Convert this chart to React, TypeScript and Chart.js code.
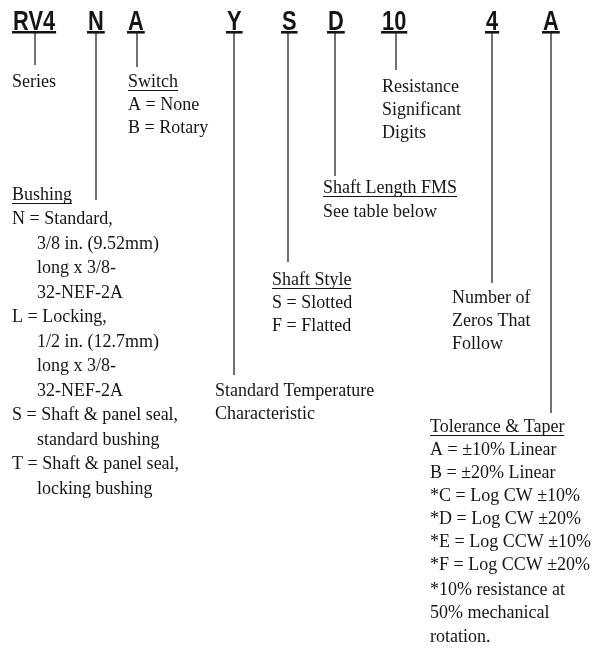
import React, { useEffect, useRef } from "react";
import { Chart, registerables } from "chart.js";

Chart.register(...registerables);

const W = 599;
const H = 666;

// Part-number code segments
const codes = ["RV4", "N", "A", "Y", "S", "D", "10", "4", "A"];
const codeLeft = [13, 88, 128, 227, 282, 328, 382, 486, 543];
const leaderX = [35, 96, 137, 234, 288, 335, 396, 492, 551];
const leaderEnd = [65, 200, 67, 375, 262, 176, 70, 283, 413];
const leaderStart = 33;

// Description blocks (first line underlined when flagged)
const seriesLines = ["Series"];
const switchLines = ["Switch", "A = None", "B = Rotary"];
const resistanceLines = ["Resistance", "Significant", "Digits"];
const shaftLengthLines = ["Shaft Length FMS", "See table below"];
const bushingLines = [
  "Bushing",
  "N = Standard,",
  "3/8 in. (9.52mm)",
  "long x 3/8-",
  "32-NEF-2A",
  "L = Locking,",
  "1/2 in. (12.7mm)",
  "long x 3/8-",
  "32-NEF-2A",
  "S = Shaft & panel seal,",
  "standard bushing",
  "T = Shaft & panel seal,",
  "locking bushing",
];
const bushingIndent = [0, 0, 1, 1, 1, 0, 1, 1, 1, 0, 1, 0, 1];
const shaftStyleLines = ["Shaft Style", "S = Slotted", "F = Flatted"];
const zerosLines = ["Number of", "Zeros That", "Follow"];
const tempLines = ["Standard Temperature", "Characteristic"];
const toleranceLines = [
  "Tolerance & Taper",
  "A = \u00b110% Linear",
  "B = \u00b120% Linear",
  "*C = Log CW \u00b110%",
  "*D = Log CW \u00b120%",
  "*E = Log CCW \u00b110%",
  "*F = Log CCW \u00b120%",
];
const footnoteLines = ["*10% resistance at", "50% mechanical", "rotation."];

const blocks = [seriesLines, switchLines, resistanceLines, shaftLengthLines, bushingLines, shaftStyleLines, zerosLines, tempLines, toleranceLines, footnoteLines];
const blockX = [12, 128, 382, 323, 12, 272, 452, 215, 430, 430];
const blockY = [82, 82, 87, 188, 195, 280, 298, 391, 427, 590];
const blockStep = [23, 23, 23, 24, 24.5, 23, 23, 23, 23, 23.5];
const blockUnderline = [false, true, false, true, true, true, false, false, true, false];
const blockIndents = [null, null, null, null, bushingIndent, null, null, null, null, null];

const TEXT_FONT = '18px "Liberation Serif", "Times New Roman", serif';
const CODE_FONT = 'bold 28px "Liberation Sans", Arial, sans-serif';
const CODE_SCALE = 0.78;
const INK = "#151515";

const textPlugin = {
  id: "diagramText",
  afterDatasetsDraw(chart: any) {
    const ctx = chart.ctx as CanvasRenderingContext2D;
    const xs = chart.scales.x;
    const ys = chart.scales.y;
    ctx.save();
    ctx.fillStyle = INK;
    ctx.strokeStyle = INK;

    // codes
    codes.forEach((c, i) => {
      const px = xs.getPixelForValue(codeLeft[i]);
      const py = ys.getPixelForValue(30);
      ctx.save();
      ctx.font = CODE_FONT;
      ctx.textBaseline = "alphabetic";
      ctx.translate(px, py);
      ctx.scale(CODE_SCALE, 1);
      ctx.fillText(c, 0, 0);
      const w = ctx.measureText(c).width;
      ctx.restore();
      const uw = w * CODE_SCALE;
      ctx.lineWidth = 2.6;
      ctx.beginPath();
      const uy = ys.getPixelForValue(32.3);
      ctx.moveTo(px - 1, uy);
      ctx.lineTo(px + uw + 1, uy);
      ctx.stroke();
    });

    // text blocks
    ctx.font = TEXT_FONT;
    ctx.textBaseline = "middle";
    blocks.forEach((lines, b) => {
      lines.forEach((line, j) => {
        const ind = blockIndents[b] ? (blockIndents[b] as number[])[j] * 25 : 0;
        const px = xs.getPixelForValue(blockX[b] + ind);
        const py = ys.getPixelForValue(blockY[b] + j * blockStep[b]);
        ctx.fillText(line, px, py);
        if (j === 0 && blockUnderline[b]) {
          const w = ctx.measureText(line).width;
          ctx.lineWidth = 1.1;
          ctx.beginPath();
          ctx.moveTo(px, py + 8.5);
          ctx.lineTo(px + w, py + 8.5);
          ctx.stroke();
        }
      });
    });
    ctx.restore();
  },
};

export default function App() {
  const ref = useRef<HTMLCanvasElement | null>(null);
  useEffect(() => {
    if (!ref.current) return;
    const datasets = leaderX.map((x, i) => ({
      type: "line" as const,
      label: codes[i],
      data: [
        { x, y: leaderStart },
        { x, y: leaderEnd[i] },
      ],
      borderColor: INK,
      borderWidth: 1.2,
      pointRadius: 0,
      showLine: true,
      fill: false,
    }));
    const chart = new Chart(ref.current, {
      type: "scatter",
      data: { datasets },
      options: {
        animation: false,
        responsive: false,
        events: [],
        layout: { padding: 0 },
        plugins: { legend: { display: false }, tooltip: { enabled: false } },
        scales: {
          x: { type: "linear", min: 0, max: W, display: false },
          y: { type: "linear", min: 0, max: H, reverse: true, display: false },
        },
      },
      plugins: [textPlugin],
    });
    return () => chart.destroy();
  }, []);
  return (
    <div style={{ position: "fixed", left: 0, top: 0, width: W, height: H, background: "#fff" }}>
      <canvas ref={ref} width={W} height={H} style={{ width: W, height: H, display: "block" }} />
    </div>
  );
}
